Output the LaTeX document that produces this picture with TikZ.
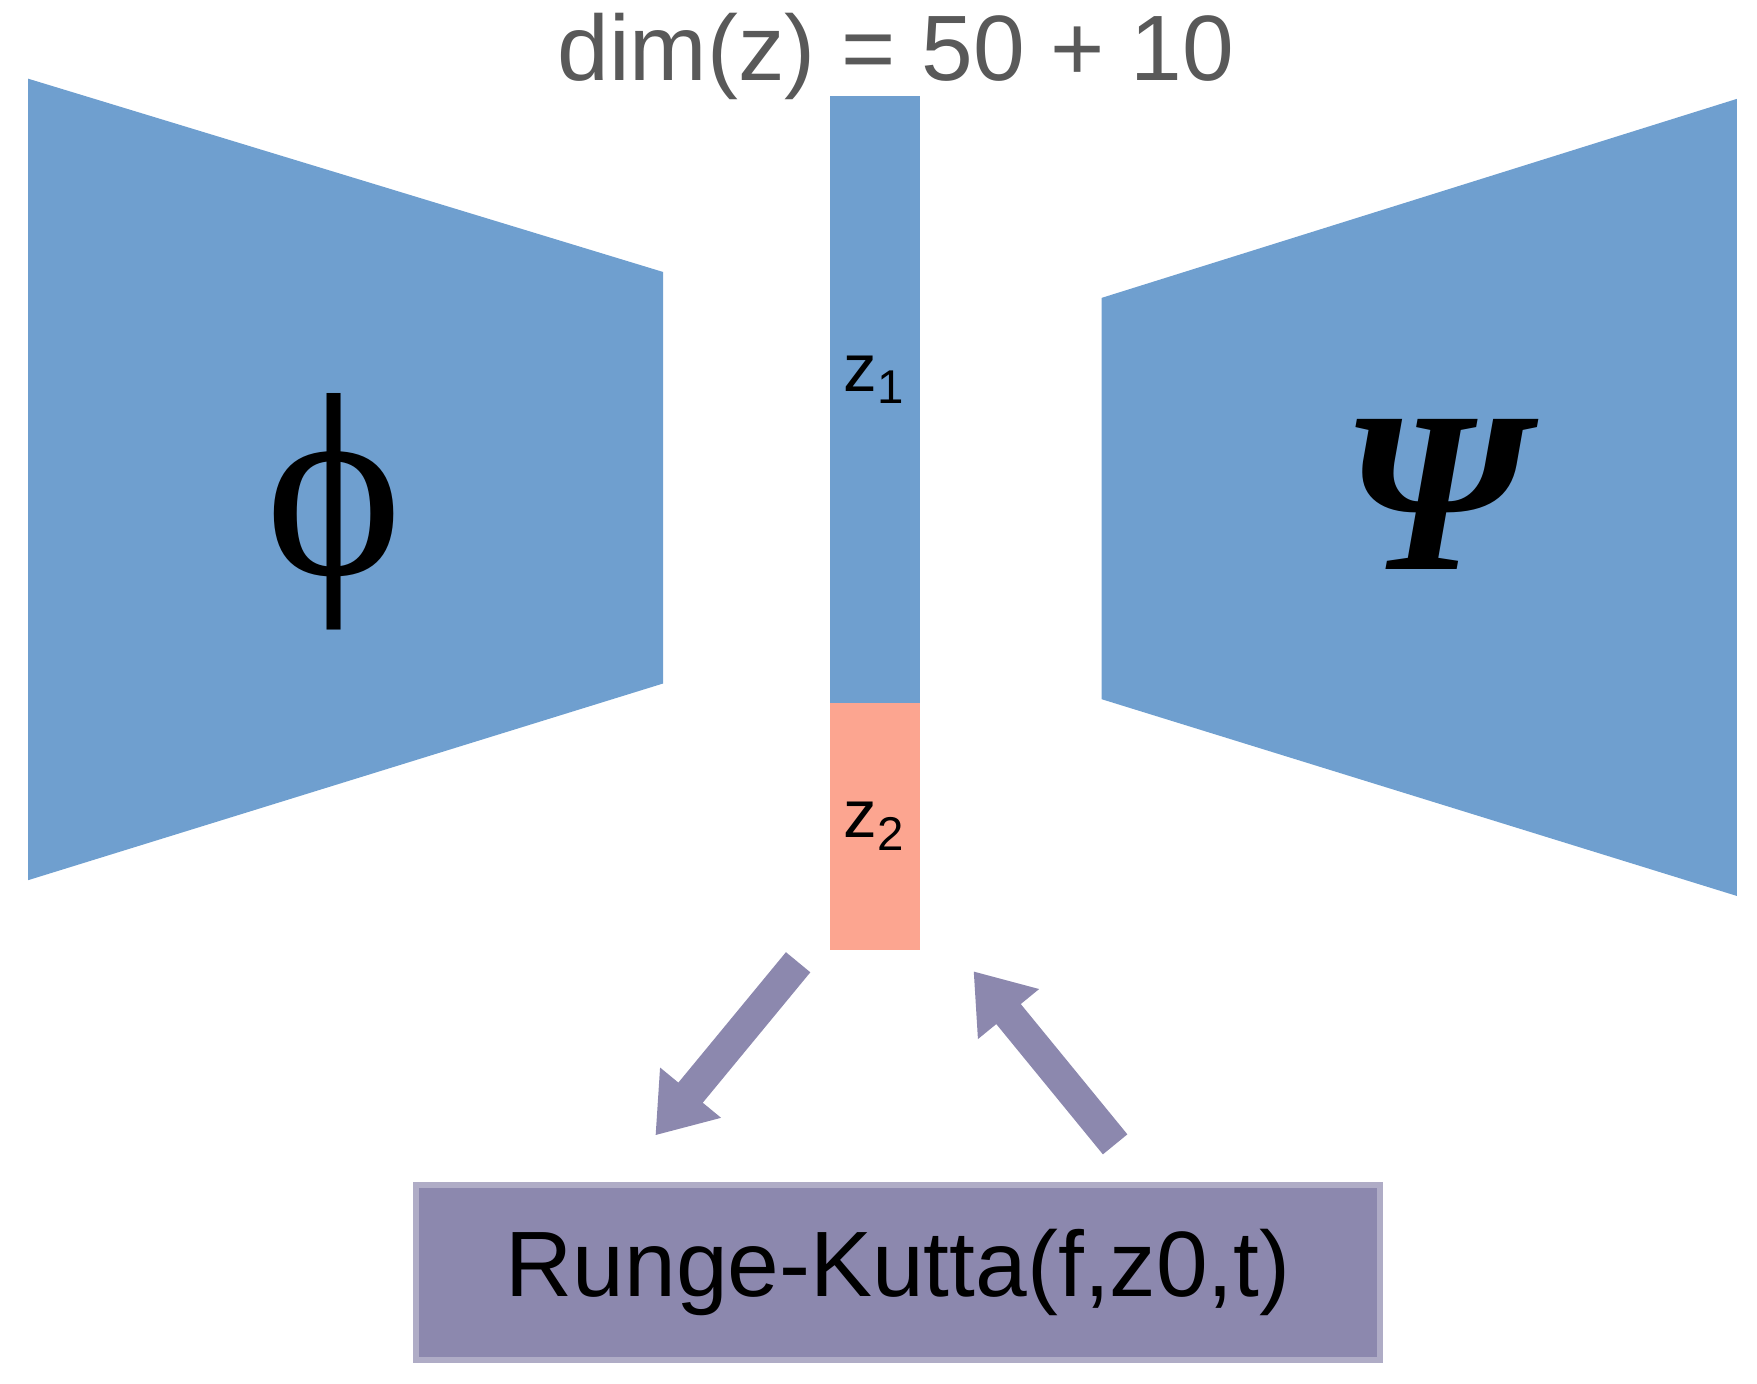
\documentclass[tikz,border=0pt]{standalone}
\usepackage{fontspec}
\setmainfont{Liberation Sans}
\newfontfamily\serf{Liberation Serif}
\usetikzlibrary{arrows.meta}
\definecolor{bl}{HTML}{6F9FCF}
\definecolor{sal}{HTML}{FCA590}
\definecolor{pu}{HTML}{8C88AE}
\begin{document}
\begin{tikzpicture}[x=0.01cm,y=-0.01cm,
  blk/.style={line width=8pt, draw=pu, -{Triangle[width=19pt,length=14pt]}}]
\useasboundingbox (0,0) rectangle (1563,1231);
\fill[bl] (25,70) -- (590,242) -- (590,608) -- (25,783) -- cycle;
\fill[bl] (980,265) -- (1545,88) -- (1545,797) -- (980,622) -- cycle;
\fill[bl] (738,85) rectangle (818,625);
\fill[sal] (738,625) rectangle (818,845);
\node (dim) at (797,50) {\color{black!65}\fontsize{23.5}{26}\selectfont dim(z) = 50 + 10};
\node (z1) at (777,338) {\fontsize{17}{20}\selectfont z\raisebox{-0.35ex}{\fontsize{12}{14}\selectfont 1}};
\node (z2) at (777,735) {\fontsize{17}{20}\selectfont z\raisebox{-0.35ex}{\fontsize{12}{14}\selectfont 2}};
\node (phi) at (297,455) {\serf\fontsize{66}{70}\selectfont ϕ};
\node (psi) at (1275,440) {\serf\bfseries\itshape\fontsize{58}{64}\selectfont Ψ};
\node[draw=pu!70, fill=pu, line width=1.5pt, minimum width=858*0.01cm, minimum height=155*0.01cm, inner sep=0] (rk) at (799,1132) {\fontsize{23.5}{26}\selectfont Runge-Kutta(f,z0,t)};
\coordinate (a1s) at (710,856); \coordinate (a1e) at (583,1010);
\coordinate (a2s) at (992,1018); \coordinate (a2e) at (866,864);
\draw[blk] (a1s) -- (a1e);
\draw[blk] (a2s) -- (a2e);
\end{tikzpicture}
\end{document}
